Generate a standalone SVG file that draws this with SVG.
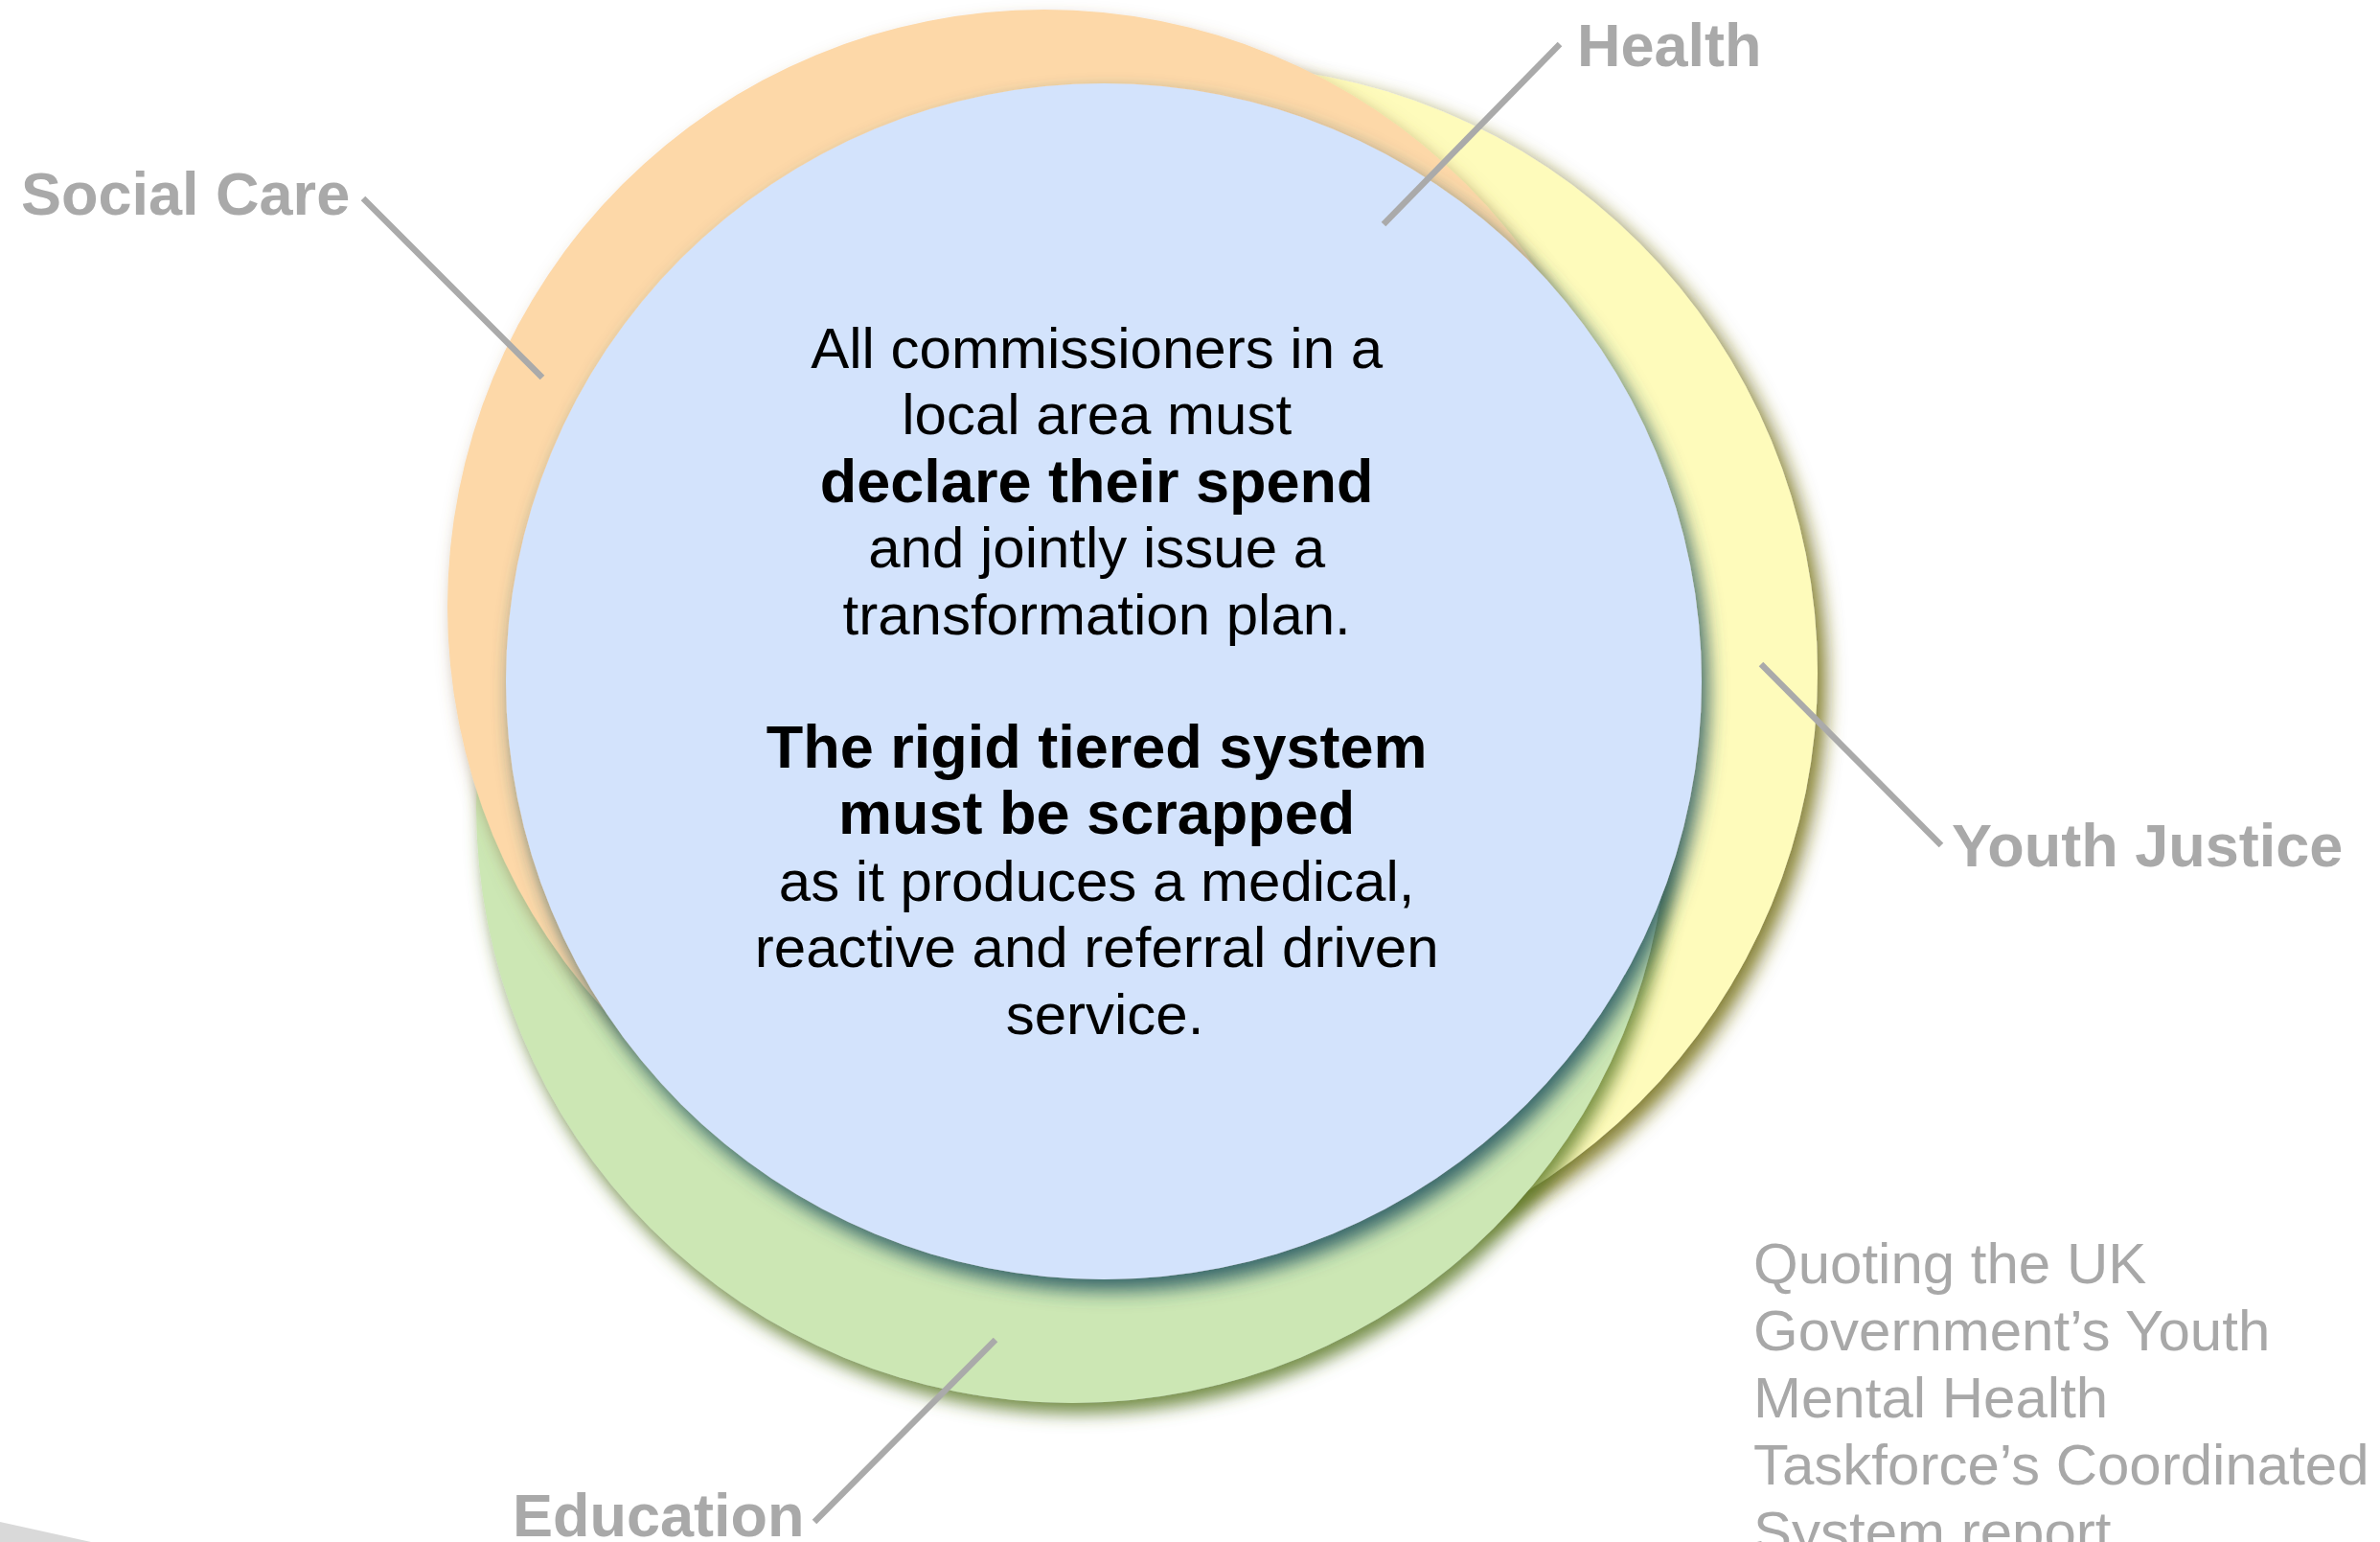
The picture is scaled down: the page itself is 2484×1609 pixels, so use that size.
<svg xmlns="http://www.w3.org/2000/svg" width="2484" height="1609" viewBox="0 0 2484 1609">
  <style>
    .label { font-family: "Liberation Sans", Arial, sans-serif; font-weight: bold; font-size: 63px; fill: #A9A9A9; }
    .body { font-family: "Liberation Sans", Arial, sans-serif; font-size: 60px; fill: #000; text-anchor: middle; }
    .b { font-weight: bold; font-size: 63px; }
    .quote { font-family: "Liberation Sans", Arial, sans-serif; font-size: 60px; fill: #A8A8A8; }
    .conn { stroke: #AAAAAA; stroke-width: 6.5; stroke-linecap: butt; fill: none; }
  </style>
  <defs>
    <filter id="shYellow" x="-15%" y="-15%" width="135%" height="135%">
      <feDropShadow dx="9" dy="10" stdDeviation="10" flood-color="#747018" flood-opacity="0.9"/>
    </filter>
    <filter id="shGreen" x="-15%" y="-15%" width="135%" height="135%">
      <feDropShadow dx="6" dy="11" stdDeviation="9" flood-color="#5d7a2c" flood-opacity="0.85"/>
    </filter>
    <filter id="shOrange" x="-15%" y="-15%" width="135%" height="135%">
      <feDropShadow dx="6" dy="10" stdDeviation="9" flood-color="#8a6a40" flood-opacity="0.6"/>
    </filter>
    <filter id="shBlue" x="-15%" y="-15%" width="135%" height="135%">
      <feDropShadow dx="7" dy="12" stdDeviation="10" flood-color="#2a5a62" flood-opacity="0.9"/>
    </filter>
  </defs>

  <rect width="2484" height="1609" fill="#FFFFFF"/>

  <g id="node-youth-justice">
    <circle cx="1263" cy="702" r="634" fill="#FEFBBB" filter="url(#shYellow)"/>
    <text class="label" x="2037" y="904">Youth Justice</text>
  </g>

  <g id="node-education">
    <circle cx="1119" cy="842" r="622" fill="#CCE7B4" filter="url(#shGreen)"/>
    <text class="label" x="535" y="1603">Education</text>
  </g>

  <g id="node-social-care">
    <circle cx="1090" cy="633" r="623" fill="#FDD8A8" filter="url(#shOrange)"/>
    <text class="label" x="22" y="224">Social Care</text>
  </g>

  <g id="node-health">
    <circle cx="1152" cy="711" r="624" fill="#D3E3FC" filter="url(#shBlue)"/>
    <text class="label" x="1646" y="69">Health</text>
    <text class="body" x="1153">
      <tspan x="1153" y="384">All commissioners in a</tspan>
      <tspan x="1153" y="453">local area must</tspan>
      <tspan x="1153" y="524" class="b">declare their spend</tspan>
      <tspan x="1153" y="592">and jointly issue a</tspan>
      <tspan x="1153" y="662">transformation plan.</tspan>
      <tspan x="1153" y="801" class="b">The rigid tiered system</tspan>
      <tspan x="1153" y="870" class="b">must be scrapped</tspan>
      <tspan x="1153" y="940">as it produces a medical,</tspan>
      <tspan x="1153" y="1009">reactive and referral driven</tspan>
      <tspan x="1153" y="1079">service.</tspan>
    </text>
  </g>

  <g id="connectors">
    <line class="conn" x1="379" y1="207" x2="566" y2="394"/>
    <line class="conn" x1="1628" y1="46" x2="1444" y2="234"/>
    <line class="conn" x1="1838" y1="693" x2="2026" y2="882"/>
    <line class="conn" x1="850" y1="1588" x2="1039" y2="1398"/>
  </g>

  <g id="note">
    <text class="quote">
      <tspan x="1830" y="1339">Quoting the UK</tspan>
      <tspan x="1830" y="1409">Government’s Youth</tspan>
      <tspan x="1830" y="1479">Mental Health</tspan>
      <tspan x="1830" y="1549">Taskforce’s Coordinated</tspan>
      <tspan x="1830" y="1619">System report</tspan>
    </text>
  </g>

  <polygon points="0,1588 95,1609 0,1609" fill="#D9D9D9"/>
</svg>
